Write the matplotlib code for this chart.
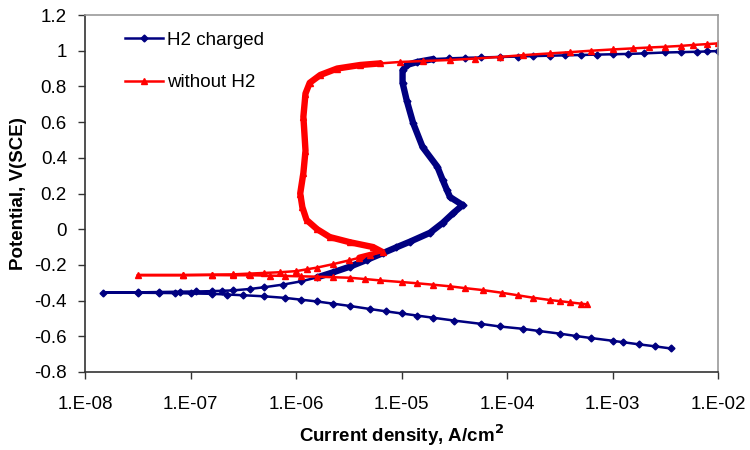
import matplotlib
matplotlib.use("Agg")
import matplotlib.pyplot as plt
import numpy as np

plt.rcParams['font.family'] = ['Liberation Sans', 'DejaVu Sans']

# H2 charged: log10(current density A/cm2), potential V(SCE)
h2_logi = [-2.45, -2.6, -2.75, -2.9, -3.0, -3.2, -3.35, -3.5, -3.7, -3.85, -4.07, -4.25, -4.5, -4.7, -4.85, -5.0,
           -5.15, -5.3, -5.49, -5.65, -5.8, -5.95, -6.1, -6.3, -6.5, -6.65, -6.8, -7.0, -7.15, -7.3, -7.5, -7.83,
           -7.5, -7.3, -7.1, -6.95, -6.8, -6.7, -6.6, -6.44, -6.3, -6.12, -5.95, -5.80, -5.65, -5.49, -5.33, -5.18,
           -5.05, -4.92, -4.73, -4.61, -4.51, -4.42,
           -4.54, -4.57, -4.61, -4.66, -4.80, -4.89, -4.95, -4.99, -4.99, -4.95, -4.85, -4.70, -4.55, -4.4, -4.25, -4.07,
           -3.9, -3.75, -3.59, -3.45, -3.3, -3.15, -3.0, -2.85, -2.7, -2.5, -2.35, -2.2, -2.1, -2.0]
h2_pot = [-0.668, -0.656, -0.645, -0.633, -0.625, -0.610, -0.598, -0.585, -0.570, -0.558, -0.545, -0.530, -0.512, -0.496, -0.484, -0.472,
          -0.460, -0.447, -0.430, -0.417, -0.405, -0.395, -0.385, -0.376, -0.370, -0.366, -0.362, -0.360, -0.358, -0.357, -0.356, -0.356,
          -0.354, -0.352, -0.350, -0.349, -0.347, -0.345, -0.343, -0.335, -0.325, -0.310, -0.292, -0.270, -0.242, -0.210, -0.172, -0.135,
          -0.102, -0.070, -0.020, 0.035, 0.090, 0.135,
          0.180, 0.220, 0.276, 0.350, 0.460, 0.595, 0.720, 0.820, 0.890, 0.920, 0.937, 0.953, 0.957, 0.960, 0.962, 0.965,
          0.967, 0.970, 0.972, 0.974, 0.976, 0.978, 0.980, 0.982, 0.985, 0.990, 0.992, 0.994, 0.996, 0.998]

# without H2
noh2_logi = [-3.24, -3.3, -3.4, -3.5, -3.59, -3.75, -3.9, -4.05, -4.23, -4.4, -4.54, -4.7, -4.85, -5.0, -5.2, -5.35, -5.49,
             -5.65, -5.8, -5.95, -6.1, -6.25, -6.44, -6.6, -6.8, -7.07, -7.5,
             -7.07, -6.8, -6.6, -6.45, -6.3, -6.15, -6.0, -5.9, -5.8, -5.65, -5.5, -5.4, -5.3, -5.18, -5.27, -5.49, -5.68, -5.80, -5.90, -5.94, -5.96,
             -5.93, -5.91, -5.93, -5.91, -5.87, -5.77, -5.61, -5.39, -5.2, -5.01, -4.8, -4.54, -4.3, -4.07, -3.85, -3.59, -3.4, -3.2, -3.0, -2.81,
             -2.65, -2.5, -2.35, -2.24, -2.1, -2.0]
noh2_pot = [-0.421, -0.417, -0.410, -0.403, -0.397, -0.384, -0.370, -0.356, -0.341, -0.330, -0.320, -0.311, -0.303, -0.296, -0.287, -0.279, -0.272,
            -0.269, -0.266, -0.264, -0.262, -0.260, -0.258, -0.258, -0.257, -0.257, -0.257,
            -0.257, -0.255, -0.253, -0.249, -0.245, -0.241, -0.235, -0.225, -0.215, -0.196, -0.175, -0.160, -0.145, -0.128, -0.100, -0.073, -0.044, 0.000, 0.052, 0.124, 0.200,
            0.315, 0.440, 0.630, 0.760, 0.820, 0.864, 0.900, 0.920, 0.929, 0.937, 0.942, 0.948, 0.956, 0.965, 0.975, 0.985, 0.992, 1.000, 1.007, 1.013,
            1.018, 1.022, 1.027, 1.032, 1.037, 1.041]

xticks = [1e-8, 1e-7, 1e-6, 1e-5, 1e-4, 1e-3, 1e-2]
xticklabels = ['1.E-08', '1.E-07', '1.E-06', '1.E-05', '1.E-04', '1.E-03', '1.E-02']
yticks = [-0.8, -0.6, -0.4, -0.2, 0, 0.2, 0.4, 0.6, 0.8, 1, 1.2]
yticklabels = ['-0.8', '-0.6', '-0.4', '-0.2', '0', '0.2', '0.4', '0.6', '0.8', '1', '1.2']

BLUE = '#000080'
RED = '#FF0000'

fig = plt.figure(figsize=(7.5, 4.5), dpi=100)
ax = fig.add_axes([85/750, 1 - 372/450, (718-85)/750, (372-15)/450])

h2_i = 10 ** np.array(h2_logi)
no_i = 10 ** np.array(noh2_logi)

# thick passive loops (dense overlapping markers in the original)
ax.plot(h2_i[43:66], h2_pot[43:66], color=BLUE, lw=4.6, solid_capstyle='round', solid_joinstyle='round')
ax.plot(no_i[38:57], noh2_pot[38:57], color=RED, lw=4.6, solid_capstyle='round', solid_joinstyle='round')

ax.plot(h2_i, h2_pot, color=BLUE, lw=1.8, marker='D', ms=3.5, label='H2 charged')
ax.plot(no_i, noh2_pot, color=RED, lw=1.8, marker='^', ms=4, label='without H2')

ax.set_xscale('log')
ax.set_xlim(1e-8, 1e-2)
ax.set_ylim(-0.8, 1.2)
ax.set_xticks(xticks)
ax.set_xticklabels(xticklabels)
ax.minorticks_off()
ax.set_yticks(yticks)
ax.set_yticklabels(yticklabels)

ax.tick_params(axis='both', direction='out', length=5, width=1, color='#333333', labelsize=13.5)
ax.tick_params(axis='x', pad=12)
ax.tick_params(axis='y', pad=8)

for s in ['left', 'bottom']:
    ax.spines[s].set_color('#333333')
    ax.spines[s].set_linewidth(1.2)
for s in ['top', 'right']:
    ax.spines[s].set_color('#999999')
    ax.spines[s].set_linewidth(1.2)

ax.set_xlabel('Current density, A/cm$^\\mathbf{2}$', fontsize=13.5, fontweight='bold', labelpad=7)
ax.set_ylabel('Potential, V(SCE)', fontsize=13.5, fontweight='bold', labelpad=5)

leg = ax.legend(loc='upper left', bbox_to_anchor=(0.037, 1.0), frameon=False, fontsize=13.5,
                labelspacing=1.33, handlelength=2.0, handletextpad=0.25)

fig.savefig('out.png', dpi=100)
